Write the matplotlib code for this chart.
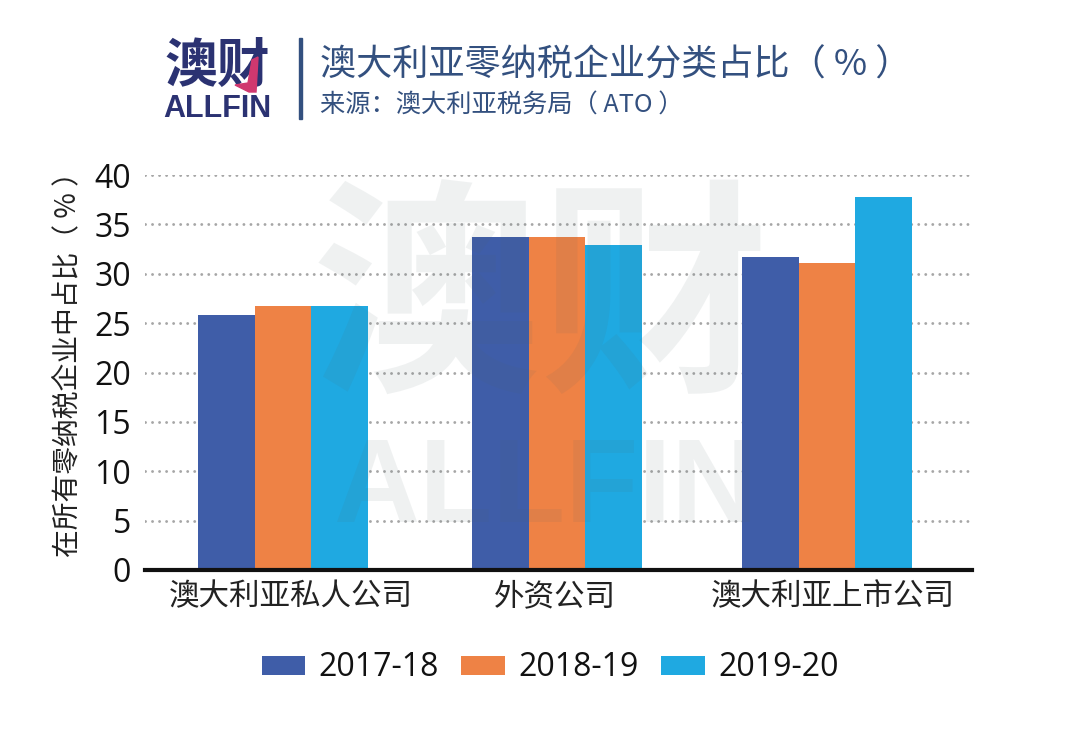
"""Share of zero-tax companies by category, ATO data."""

import matplotlib

matplotlib.use("Agg")

import matplotlib.pyplot as plt
import numpy as np
from matplotlib.patches import Polygon, Rectangle

plt.rcParams["font.family"] = ["Noto Sans CJK SC", "DejaVu Sans"]

CATEGORIES = ["澳大利亚私人公司", "外资公司", "澳大利亚上市公司"]
YEARS = ["2017-18", "2018-19", "2019-20"]
VALUES_2017 = [25.8, 33.7, 31.7]
VALUES_2018 = [26.7, 33.7, 31.1]
VALUES_2019 = [26.7, 32.9, 37.8]
Y_TICKS = [0, 5, 10, 15, 20, 25, 30, 35, 40]

COLORS = ["#3F5DA8", "#EE8245", "#1FA9E1"]
NAVY = "#2B3272"
TITLE_COLOR = "#33507F"
NUM_FONT = ["Open Sans", "DejaVu Sans"]

W, H = 1080, 730


def fx(px):
    return px / W


def fy(py):
    return 1 - py / H


fig = plt.figure(figsize=(W / 100, H / 100), dpi=100, facecolor="white")

ax = fig.add_axes([fx(145), fy(570), fx(972) - fx(145), fy(175) - fy(570)])
ax.set_facecolor("none")

x = np.array([0, 1.007, 2])
bar_w = 0.208
for i, (vals, year) in enumerate(zip([VALUES_2017, VALUES_2018, VALUES_2019], YEARS)):
    ax.bar(x + (i - 1) * bar_w, vals, bar_w, color=COLORS[i], label=year, zorder=3)

ax.set_xlim(-0.507, 2.533)
ax.set_ylim(0, 40)
ax.set_yticks(Y_TICKS)
ax.set_yticklabels([str(t) for t in Y_TICKS], fontsize=23, family=NUM_FONT, color="#111111")
# labels sit a little right of the bar groups in the original
ax.set_xticks([0.03, 1.0, 2.02])
ax.set_xticklabels(CATEGORIES, fontsize=22, color="#222222")
ax.tick_params(axis="both", length=0)
ax.tick_params(axis="x", pad=8)
ax.tick_params(axis="y", pad=10)

ax.yaxis.grid(True, color="#A6A6A6", linewidth=2.1, linestyle=(0, (0.01, 2.4)), dash_capstyle="round", zorder=1)
ax.set_axisbelow(True)
for side in ["top", "right", "left"]:
    ax.spines[side].set_visible(False)
ax.spines["bottom"].set_linewidth(3)
ax.spines["bottom"].set_color("#111111")
ax.spines["bottom"].set_zorder(5)

fig.text(fx(67), fy(358), "在所有零纳税企业中占比（ % ）", rotation=90, fontsize=20,
         ha="center", va="center", color="#222222")

handles, labels = ax.get_legend_handles_labels()
fig.legend(handles, labels, loc="center", bbox_to_anchor=(fx(550), fy(668)), ncol=3, frameon=False,
           prop={"family": NUM_FONT, "size": 23}, handlelength=1.35, handleheight=0.53,
           handletextpad=0.42, columnspacing=0.72, labelcolor="#111111")

# watermark sits over the bars
fig.text(fx(541), fy(307), "澳财", fontsize=165, fontweight="bold", color="#4F6468", alpha=0.085,
         ha="center", va="center", zorder=10)
fig.text(fx(545), fy(492), "ALLFIN", fontsize=86, fontweight="bold", family=["Liberation Sans"],
         color="#4F6468", alpha=0.085, ha="center", va="center", zorder=10)

# logo
fig.text(fx(217), fy(66), "澳财", fontsize=38, fontweight="bold", color=NAVY, ha="center", va="center")
fig.text(fx(217), fy(109), "ALLFIN", fontsize=22, fontweight="bold", family=["Liberation Sans"],
         color=NAVY, ha="center", va="center")
fig.add_artist(Polygon(
    [(fx(235), fy(85)), (fx(249), fy(92)), (fx(256), fy(92)), (fx(258), fy(57)), (fx(252), fy(60)), (fx(248), fy(83))],
    closed=True, color="#D0386F", zorder=6, transform=fig.transFigure))
fig.add_artist(Rectangle((fx(299), fy(119)), 2.5 / W, 81 / H, color=TITLE_COLOR, transform=fig.transFigure))

fig.text(fx(320), fy(66), "澳大利亚零纳税企业分类占比（ % ）", fontsize=26, color=TITLE_COLOR, ha="left", va="center")
fig.text(fx(320), fy(106), "来源：澳大利亚税务局（ ATO ）", fontsize=18.2, color=TITLE_COLOR, ha="left", va="center")

fig.savefig("out.png", dpi=100, facecolor="white")
